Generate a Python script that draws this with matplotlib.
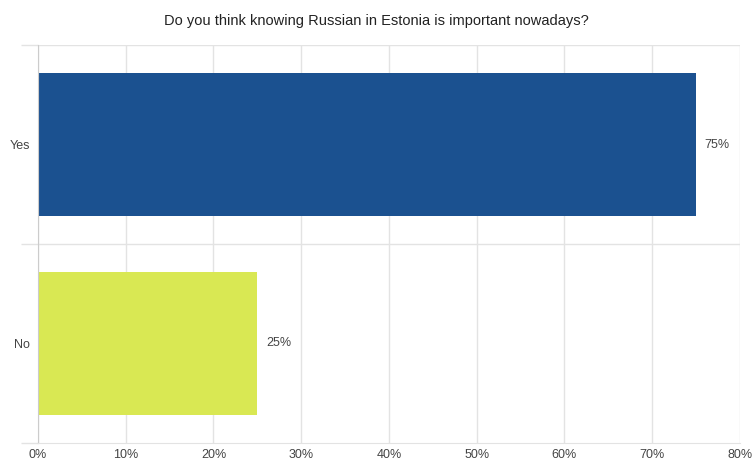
import matplotlib.pyplot as plt
from matplotlib.ticker import FixedLocator, FuncFormatter

plt.rcParams['font.family'] = ['Liberation Sans', 'DejaVu Sans']

answers = ["Yes", "No"]
shares = [75, 25]
bar_colors = ["#1b5190", "#d9e853"]
x_ticks = [0, 10, 20, 30, 40, 50, 60, 70, 80]

fig = plt.figure(figsize=(7.53, 4.63), dpi=100)
ax = fig.add_axes([0.0505, 0.0432, 0.932, 0.8596])

pos = list(range(len(answers)))
ax.barh(pos, shares, height=0.72, color=bar_colors, zorder=2)

for p, v in zip(pos, shares):
    ax.text(v + 1.0, p, f"{v}%", va="center", ha="left", fontsize=9, color="#444444")

ax.set_xlim(0, 80)
ax.set_ylim(1.5, -0.5)
ax.set_xticks(x_ticks)
ax.xaxis.set_major_formatter(FuncFormatter(lambda v, _: f"{v:.0f}%"))
ax.set_yticks(pos)
ax.set_yticklabels(answers)
ax.yaxis.set_minor_locator(FixedLocator([-0.5, 0.5, 1.5]))

ax.grid(axis="x", color="#e3e3e3", linewidth=1, zorder=0)
ax.tick_params(axis="x", length=0, labelsize=9, labelcolor="#444444", pad=4)
ax.tick_params(axis="y", which="major", length=0, labelsize=9, labelcolor="#444444", pad=6)
ax.tick_params(axis="y", which="minor", length=12, width=1, color="#e3e3e3")

for side in ["top", "right"]:
    ax.spines[side].set_visible(False)
ax.spines["bottom"].set_color("#e3e3e3")
ax.spines["left"].set_color("#cccccc")

ax.axhline(0.5, color="#e3e3e3", linewidth=1, zorder=1)
ax.axhline(-0.5, color="#e3e3e3", linewidth=1, zorder=1)

fig.text(0.5, 0.955, "Do you think knowing Russian in Estonia is important nowadays?",
         ha="center", va="center", fontsize=10.5, color="#222222")

fig.savefig("out.png", dpi=100)
